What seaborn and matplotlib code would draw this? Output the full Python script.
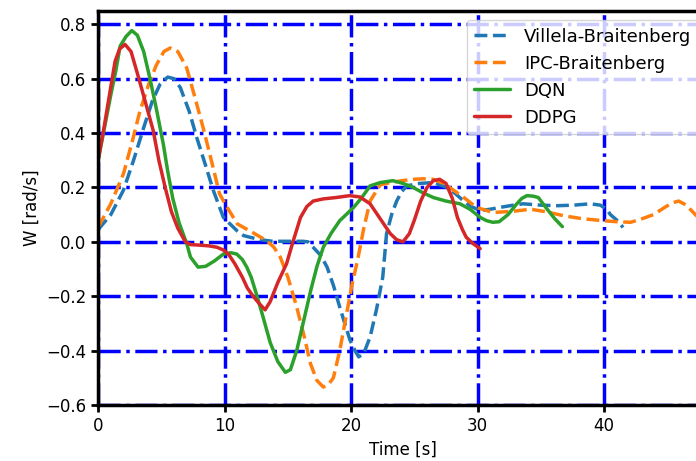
import seaborn as sns
import matplotlib.pyplot as plt
import pandas as pd

# Villela-Braitenberg
t_villela = [0.0, 1.0, 2.0, 2.8, 3.6, 4.3, 4.9, 5.5, 6.0, 6.5, 7.2, 7.8, 8.5, 9.1, 9.9, 10.4, 11.0, 11.5,
             12.0, 12.8, 13.8, 15.0, 16.2, 16.6, 17.0, 17.6, 18.1, 18.6, 19.1, 19.5, 19.9, 20.3, 20.6,
             21.0, 21.5, 22.0, 22.5, 22.8, 23.2, 23.6, 24.0, 24.4, 25.4, 26.5, 27.6, 28.3, 28.9, 29.5,
             30.2, 31.0, 31.8, 32.7, 33.6, 35.0, 36.3, 37.6, 38.9, 39.7, 40.2, 40.5, 41.0, 41.5]
w_villela = [0.045, 0.10, 0.19, 0.30, 0.42, 0.52, 0.58, 0.606, 0.60, 0.567, 0.48, 0.383, 0.28, 0.19, 0.09,
             0.067, 0.04, 0.023, 0.017, 0.008, 0.002, 0.002, 0.002, 0.0, -0.02, -0.05, -0.093, -0.16,
             -0.24, -0.30, -0.36, -0.40, -0.423, -0.41, -0.35, -0.25, -0.13, 0.03, 0.10, 0.15, 0.185,
             0.206, 0.215, 0.218, 0.20, 0.175, 0.15, 0.13, 0.115, 0.12, 0.127, 0.134, 0.14, 0.135,
             0.133, 0.135, 0.14, 0.135, 0.12, 0.10, 0.08, 0.053]

# IPC-Braitenberg
t_ipc = [0.0, 1.0, 2.0, 2.7, 3.3, 4.0, 4.6, 5.2, 5.7, 6.3, 7.0, 7.6, 8.3, 9.0, 9.6, 10.2, 11.0, 12.0,
         13.3, 13.9, 14.4, 15.0, 15.7, 16.3, 16.8, 17.3, 17.8, 18.2, 18.6, 19.1, 19.7, 20.1, 20.5,
         21.0, 21.5, 22.3, 23.1, 24.0, 24.9, 25.7, 26.5, 27.3, 28.1, 29.0, 29.9, 31.2, 32.7, 34.2,
         35.5, 36.8, 38.3, 39.9, 41.0, 42.1, 43.0, 43.9, 44.9, 45.5, 45.9, 46.5, 47.3, 48.0, 48.5]
w_ipc = [0.054, 0.14, 0.25, 0.37, 0.48, 0.58, 0.65, 0.70, 0.713, 0.70, 0.64, 0.54, 0.42, 0.29, 0.176,
         0.127, 0.066, 0.04, 0.005, -0.02, -0.056, -0.13, -0.24, -0.35, -0.45, -0.51, -0.534, -0.525,
         -0.50, -0.40, -0.25, -0.15, -0.07, 0.05, 0.15, 0.21, 0.218, 0.225, 0.23, 0.232, 0.23, 0.215,
         0.19, 0.16, 0.127, 0.108, 0.112, 0.12, 0.11, 0.096, 0.085, 0.078, 0.074, 0.072, 0.085, 0.10,
         0.13, 0.145, 0.15, 0.135, 0.096, 0.07, 0.06]

# DQN
t_dqn = [0.0, 0.5, 1.0, 1.4, 1.74, 2.2, 2.66, 3.1, 3.6, 4.1, 4.6, 5.15, 5.5, 5.9, 6.4, 7.0, 7.3, 7.9, 8.5,
         9.2, 9.9, 10.5, 10.96, 11.4, 11.75, 12.1, 12.5, 13.0, 13.6, 14.2, 14.8, 15.2, 15.7, 16.2,
         16.8, 17.3, 17.8, 18.4, 19.1, 19.6, 20.2, 20.8, 21.5, 22.3, 23.3, 24.1, 24.9, 25.7, 26.5,
         27.5, 28.6, 29.4, 30.2, 30.7, 31.2, 31.7, 32.4, 33.1, 33.5, 33.9, 34.4, 34.8, 35.5, 36.1,
         36.7]
w_dqn = [0.30, 0.42, 0.54, 0.63, 0.72, 0.755, 0.777, 0.76, 0.70, 0.60, 0.49, 0.36, 0.26, 0.16, 0.07,
         -0.006, -0.056, -0.093, -0.09, -0.07, -0.045, -0.04, -0.045, -0.065, -0.093, -0.13, -0.19,
         -0.27, -0.37, -0.44, -0.48, -0.47, -0.40, -0.30, -0.18, -0.09, -0.02, 0.03, 0.078, 0.10,
         0.127, 0.16, 0.206, 0.218, 0.225, 0.215, 0.20, 0.18, 0.163, 0.15, 0.14, 0.12, 0.09, 0.078,
         0.072, 0.074, 0.10, 0.14, 0.16, 0.17, 0.168, 0.163, 0.12, 0.085, 0.056]

# DDPG
t_ddpg = [0.0, 0.5, 1.0, 1.34, 1.7, 2.13, 2.6, 3.1, 3.7, 4.35, 4.8, 5.3, 5.8, 6.3, 6.9, 7.3, 8.0, 8.8,
          9.4, 9.9, 10.3, 10.8, 11.4, 11.8, 12.25, 12.7, 13.2, 13.6, 14.2, 14.9, 15.4, 16.0, 16.5,
          17.0, 17.8, 18.8, 19.9, 20.7, 21.5, 22.3, 23.1, 23.6, 24.1, 24.6, 25.0, 25.5, 26.0, 26.5,
          27.0, 27.5, 28.0, 28.4, 28.8, 29.1, 29.6, 30.2]
w_ddpg = [0.30, 0.43, 0.57, 0.664, 0.71, 0.726, 0.70, 0.62, 0.52, 0.41, 0.30, 0.20, 0.11, 0.05, 0.0,
          -0.01, -0.012, -0.015, -0.02, -0.03, -0.045, -0.08, -0.13, -0.17, -0.20, -0.225, -0.25,
          -0.22, -0.15, -0.08, 0.0, 0.09, 0.13, 0.15, 0.158, 0.163, 0.17, 0.165, 0.14, 0.085, 0.03,
          0.008, 0.0, 0.03, 0.08, 0.15, 0.20, 0.225, 0.23, 0.215, 0.16, 0.09, 0.045, 0.017, -0.005,
          -0.025]

sns.set_style('ticks')
plt.rcParams['font.family'] = ['DejaVu Sans']
plt.rcParams.update({'text.color': 'black', 'axes.labelcolor': 'black',
                     'xtick.color': 'black', 'ytick.color': 'black'})

fig = plt.figure(figsize=(6.96, 4.61), dpi=100)
# axes run slightly past the right edge of the picture, as in the original
ax = fig.add_axes([0.141, 0.1215, 0.876, 0.854])

series = [
    ('Villela-Braitenberg', t_villela, w_villela, '#1f77b4', True),
    ('IPC-Braitenberg', t_ipc, w_ipc, '#ff7f0e', True),
    ('DQN', t_dqn, w_dqn, '#2ca02c', False),
    ('DDPG', t_ddpg, w_ddpg, '#d62728', False),
]
for name, t, w, c, dashed in series:
    df = pd.DataFrame({'t': t, 'w': w})
    sns.lineplot(data=df, x='t', y='w', ax=ax, color=c, linewidth=2.5,
                 label=name, sort=False, estimator=None)
    if dashed:
        ax.lines[-1].set_linestyle('--')

ax.set_xlim(0, 48.2)
ax.set_ylim(-0.6, 0.848)
ax.set_xticks([0, 10, 20, 30, 40])
ax.set_yticks([-0.6, -0.4, -0.2, 0.0, 0.2, 0.4, 0.6, 0.8])
ax.grid(True, color='blue', linestyle='-.', linewidth=2.5)
ax.set_axisbelow(True)
for s in ax.spines.values():
    s.set_linewidth(2.5)
    s.set_color('black')
ax.tick_params(width=2, length=5, labelsize=12, color='black')
ax.set_xlabel('Time [s]', fontsize=12)
ax.set_ylabel('W [rad/s]', fontsize=12)
ax.legend(loc='upper right', fontsize=13, framealpha=0.8)

fig.savefig('out.png', dpi=100)
